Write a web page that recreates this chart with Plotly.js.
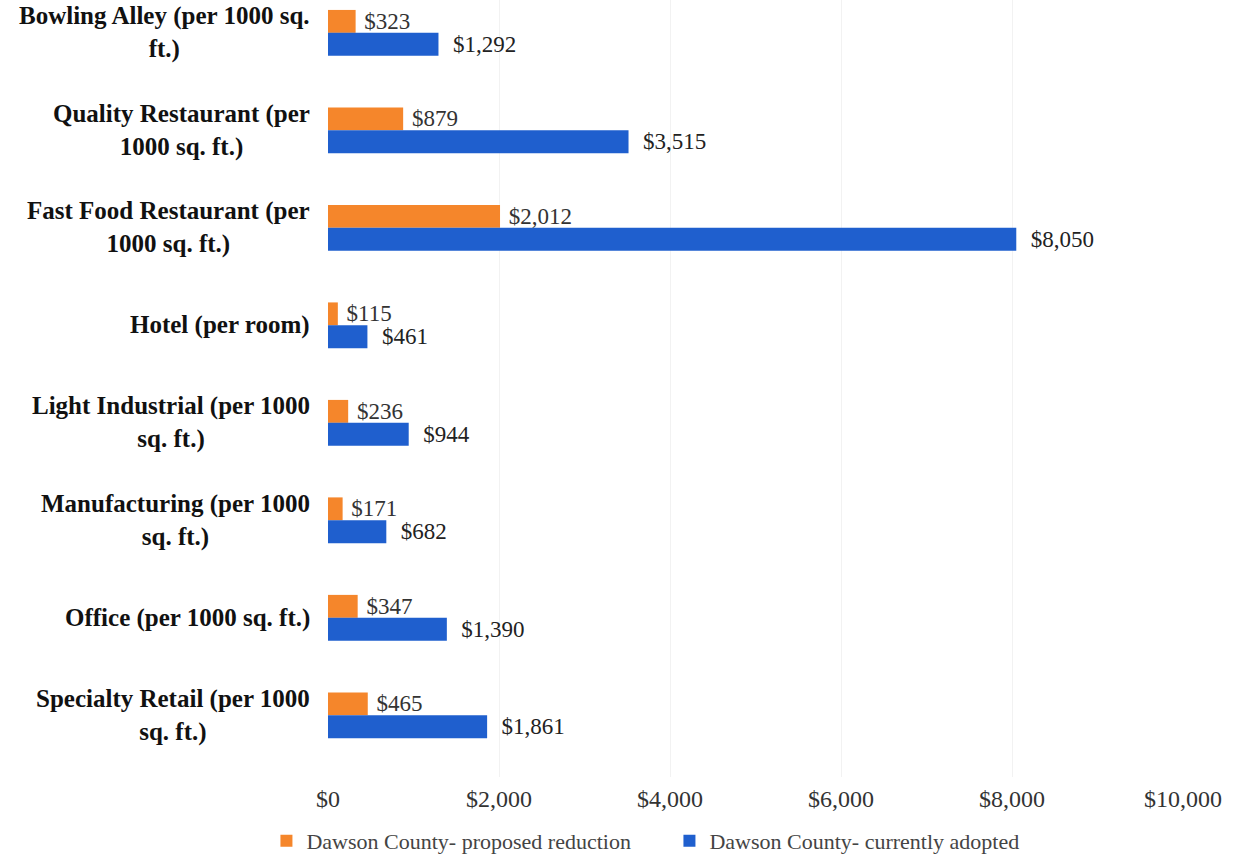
<!DOCTYPE html>
<html>
<head>
<meta charset="utf-8">
<script src="https://cdn.plot.ly/plotly-3.0.1.min.js"></script>
<style>html,body{margin:0;padding:0;background:#fff;}#chart{width:1241px;height:862px;}</style>
</head>
<body>
<div id="chart"></div>
<script>
const categories = [
  "Bowling Alley (per 1000 sq.<br>ft.)",
  "Quality Restaurant (per<br>1000 sq. ft.)",
  "Fast Food Restaurant (per<br>1000 sq. ft.)",
  "Hotel (per room)",
  "Light Industrial (per 1000<br>sq. ft.)",
  "Manufacturing (per 1000<br>sq. ft.)",
  "Office (per 1000 sq. ft.)",
  "Specialty Retail (per 1000<br>sq. ft.)"
];
const proposedReduction = [323, 879, 2012, 115, 236, 171, 347, 465];
const currentlyAdopted = [1292, 3515, 8050, 461, 944, 682, 1390, 1861];
const seriesNames = ["Dawson County- proposed reduction", "Dawson County- currently adopted"];
const tickVals = [0, 2000, 4000, 6000, 8000, 10000];
const tickText = ["$0", "$2,000", "$4,000", "$6,000", "$8,000", "$10,000"];

const serif = "Liberation Serif, Georgia, serif";

const traces = [
  {
    type: "bar", orientation: "h", name: seriesNames[0],
    x: proposedReduction, y: categories,
    marker: {color: "#F5862B"},
    texttemplate: "\u00a0$%{x:,}", textposition: "outside", constraintext: "none",
    textfont: {family: serif, size: 23, color: "#333"},
    cliponaxis: false, hoverinfo: "x"
  },
  {
    type: "bar", orientation: "h", name: seriesNames[1],
    x: currentlyAdopted, y: categories,
    marker: {color: "#1F5FCE"},
    texttemplate: "\u00a0\u00a0$%{x:,}", textposition: "outside", constraintext: "none",
    textfont: {family: serif, size: 23, color: "#222"},
    cliponaxis: false, hoverinfo: "x"
  }
];

const annotations = categories.map(c => ({
  xref: "paper", yref: "y", x: 0, y: c,
  xanchor: "right", yanchor: "middle", align: "center",
  xshift: -16, showarrow: false, text: "<b>" + c + "</b>",
  font: {family: serif, size: 25, color: "#111"}
}));

const layout = {
  width: 1241, height: 862,
  margin: {l: 328, r: 58, t: 0, b: 82},
  paper_bgcolor: "#fff", plot_bgcolor: "#fff",
  barmode: "group", bargap: 0.53, bargroupgap: 0,
  showlegend: true,
  legend: {
    orientation: "h", x: -0.072, xanchor: "left", y: -0.083, yanchor: "middle",
    entrywidth: 358, entrywidthmode: "pixels",
    font: {family: serif, size: 22, color: "#444"}, traceorder: "normal"
  },
  xaxis: {
    range: [0, 10000], tickvals: tickVals, ticktext: tickText,
    showgrid: true, gridcolor: "#f2f2f2", zeroline: false, showline: false,
    tickfont: {family: serif, size: 24, color: "#333"}, ticklabelstandoff: 5
  },
  yaxis: {
    type: "category", categoryorder: "array", categoryarray: categories,
    range: [7.633, -0.337], showticklabels: false, showgrid: false,
    zeroline: false, showline: false
  },
  annotations: annotations
};

Plotly.newPlot("chart", traces, layout, {displayModeBar: false, staticPlot: true});
</script>
</body>
</html>
